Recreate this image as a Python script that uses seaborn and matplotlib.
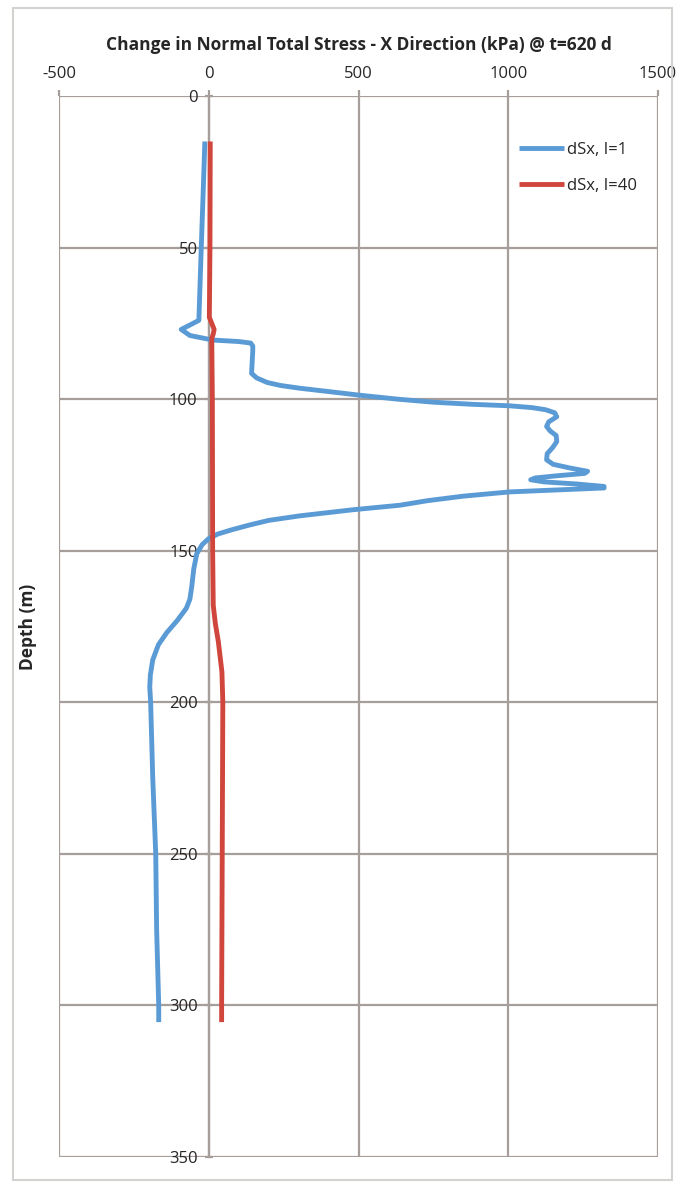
import matplotlib
matplotlib.use("Agg")
import matplotlib.pyplot as plt
import pandas as pd
import seaborn as sns
from matplotlib.patches import Rectangle

# depth profiles (depth in m, stress change in kPa)
blue_depth = [15, 30, 50, 65, 74, 75.5, 77, 79, 80.5, 81, 81.5, 82.5, 84, 91.5,
              93, 94.5, 95.5, 96.4, 97.5, 98.7, 100, 101, 101.7, 102.2, 102.8,
              103.5, 104.5, 105.8, 107.5, 109, 110.5, 112, 114, 116, 118, 120,
              121.5, 122.8, 123.8, 124.5, 125.3, 126, 126.6, 127.3, 128, 128.8,
              129.3, 129.8, 130.6, 132, 133.5, 135, 136.5, 138.5, 140, 141.5,
              143, 144.5, 146, 148, 151, 156, 162, 166, 169, 173, 177, 181, 186,
              191, 195, 200, 225, 250, 275, 300, 305.5]
blue_x = [-13, -18, -25, -30, -33, -62, -92, -63, 13, 100, 140, 147, 147, 143,
          160, 195, 240, 304, 400, 504, 630, 748, 880, 1005, 1080,
          1125, 1155, 1162, 1135, 1128, 1140, 1160, 1162, 1148, 1130, 1128,
          1150, 1210, 1265, 1255, 1160, 1090, 1075, 1120, 1230, 1320,
          1320, 1200, 1005, 850, 730, 638, 480, 304, 200, 137,
          80, 30, 0, -22, -40, -50, -57, -63, -75, -105, -140, -168, -187,
          -195, -197, -194, -187, -177, -174, -167, -167]

red_depth = [15, 50, 73, 75, 77, 78.5, 80, 100, 150, 168, 174, 180, 190, 200,
             250, 300, 305.5]
red_x = [5, 4, 2, 10, 18, 15, 10, 12, 13, 15, 22, 32, 44, 47, 45, 43, 43]

labels = ["dSx, I=1", "dSx, I=40"]
colors = ["#5b9bd5", "#d0463c"]

df = pd.concat([
    pd.DataFrame({"depth": blue_depth, "dsx": blue_x, "series": labels[0]}),
    pd.DataFrame({"depth": red_depth, "dsx": red_x, "series": labels[1]}),
])

sns.set_style("white")
plt.rcParams["font.family"] = ["Open Sans", "DejaVu Sans"]
plt.rcParams["axes.unicode_minus"] = False

fig = plt.figure(figsize=(6.82, 11.86), dpi=100)
ax = fig.add_axes([59 / 682, 1 - 1157 / 1186, 599 / 682, 1061 / 1186])

gridc = "#a69e9a"
txtc = "#262626"
sns.lineplot(data=df, x="dsx", y="depth", hue="series", palette=colors,
             sort=False, estimator=None, linewidth=3.5, ax=ax, zorder=3,
             solid_joinstyle="round", solid_capstyle="butt")

ax.set_xlim(-500, 1500)
ax.set_ylim(350, 0)
ax.set_xticks(range(-500, 1501, 500))
ax.set_yticks(range(0, 351, 50))
ax.grid(True, color=gridc, linewidth=1.6)
ax.set_axisbelow(True)

for s in ["top", "right", "bottom"]:
    ax.spines[s].set_visible(False)
ax.spines["left"].set_position(("data", 0))
ax.spines["left"].set_color(gridc)
ax.spines["left"].set_linewidth(1.6)

ax.xaxis.tick_top()
ax.tick_params(axis="x", top=True, bottom=False, direction="out", length=4,
               color=gridc, width=1.6, labelsize=12, labelcolor=txtc, pad=6)
ax.tick_params(axis="y", left=True, direction="inout", length=6, color=gridc,
               width=1.6, labelsize=12, labelcolor=txtc, pad=5)

ax.set_xlabel("")
ax.set_ylabel("Depth (m)", fontsize=12.5, fontweight="bold", color=txtc)
ax.yaxis.set_label_coords(-0.037, 0.5)
ax.set_title("Change in Normal Total Stress - X Direction (kPa) @ t=620 d",
             fontsize=12.5, fontweight="bold", color=txtc, pad=33)

leg = ax.legend(loc="upper left", bbox_to_anchor=(0.768, 0.957), frameon=False,
                fontsize=12, handlelength=2.7, handletextpad=0.2,
                labelspacing=1.2, borderaxespad=0, borderpad=0)
for line in leg.get_lines():
    line.set_linewidth(3.5)
for t in leg.get_texts():
    t.set_color(txtc)

fig.patches.append(Rectangle((13 / 682, 6 / 1186), 659 / 682, 1172 / 1186,
                             transform=fig.transFigure, fill=False,
                             edgecolor="#d4d2d0", linewidth=1.5))

fig.savefig("out.png", dpi=100)
